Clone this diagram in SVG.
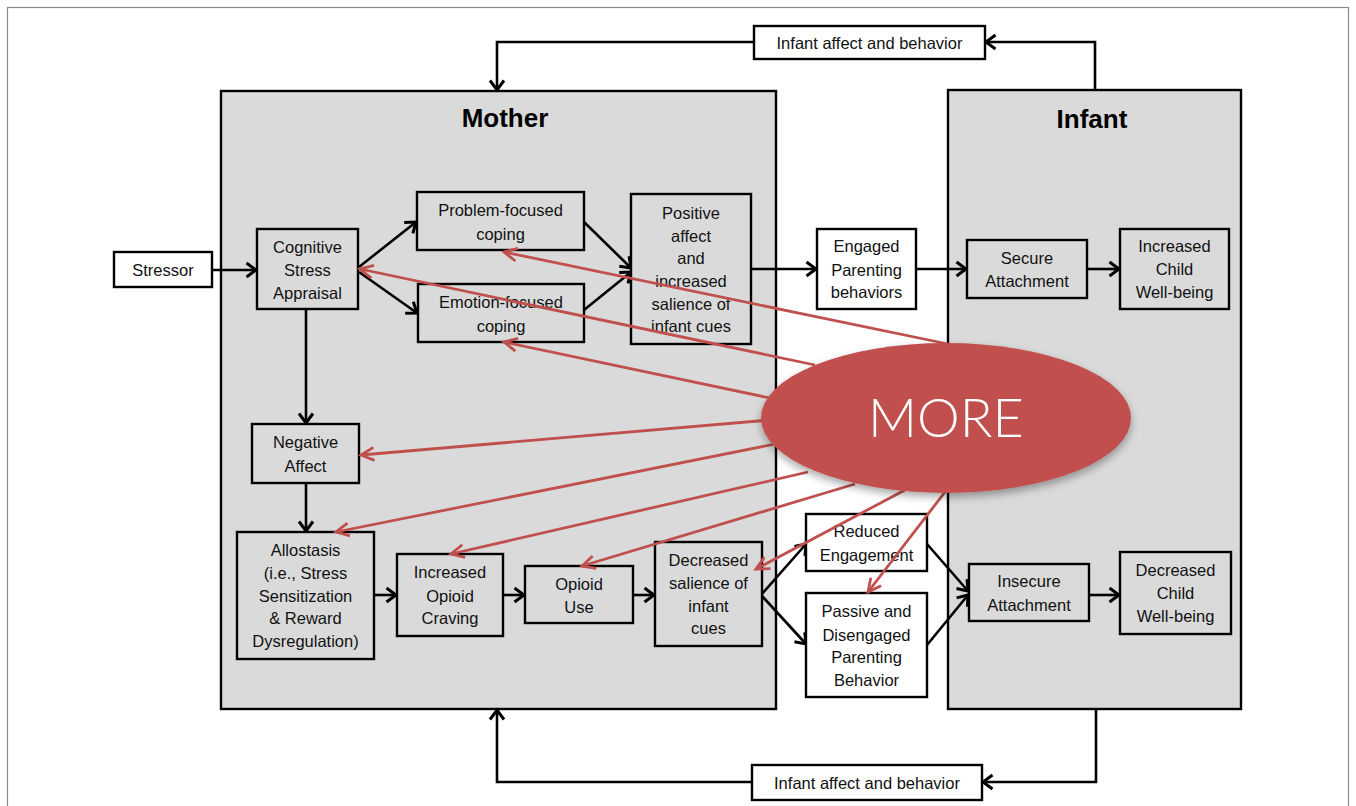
<svg xmlns="http://www.w3.org/2000/svg" width="1356" height="806" viewBox="0 0 1356 806">
<style>
.box{stroke:#000;stroke-width:2.4;fill:#dadada}
.wbox{stroke:#000;stroke-width:2.4;fill:#fff}
.cont{stroke:#000;stroke-width:2.4;fill:#dadada}
.t{font-family:"Liberation Sans",Arial,sans-serif;font-size:16.5px;fill:#111;text-anchor:middle;dominant-baseline:central}
.title{font-family:"Liberation Sans",Arial,sans-serif;font-size:26px;font-weight:bold;fill:#000;text-anchor:middle;dominant-baseline:central}
.blk{stroke:#000;stroke-width:2.6;fill:none;marker-end:url(#ab)}
.red{stroke:#c0504d;stroke-width:2.8;fill:none;marker-end:url(#ar)}
</style>
<defs>
<marker id="ab" markerUnits="userSpaceOnUse" markerWidth="20" markerHeight="20" refX="12" refY="10" orient="auto" overflow="visible">
<path d="M2.5,3 L12,10 L2.5,17" fill="none" stroke="#000" stroke-width="3"/>
</marker>
<marker id="ar" markerUnits="userSpaceOnUse" markerWidth="20" markerHeight="20" refX="12" refY="10" orient="auto" overflow="visible">
<path d="M-1,3.5 L12,10 L-1,16.5" fill="none" stroke="#c0504d" stroke-width="2.8"/>
</marker>
<filter id="sh" x="-20%" y="-20%" width="140%" height="150%">
<feDropShadow dx="0" dy="4" stdDeviation="4" flood-color="#000" flood-opacity="0.35"/>
</filter>
</defs>
<rect x="0" y="0" width="1356" height="806" fill="#fff"/>
<rect x="7.5" y="7.5" width="1341" height="820" fill="none" stroke="#8a8a8a" stroke-width="1.2"/>

<g id="mother"><rect class="cont" x="221" y="91" width="555" height="618"/><text class="title" x="505" y="118">Mother</text></g>
<g id="infant"><rect class="cont" x="948" y="90" width="293" height="619"/><text class="title" x="1092" y="119">Infant</text></g>

<g id="connectors">
<polyline class="blk" points="1095,90 1095,42 986,42"/>
<polyline class="blk" points="754,42 497,42 497,90"/>
<polyline class="blk" points="1096,709 1096,782 983,782"/>
<polyline class="blk" points="752,782 497,782 497,710"/>
<line class="blk" x1="212" y1="270" x2="256" y2="270"/>
<line class="blk" x1="359" y1="267" x2="416" y2="222"/>
<line class="blk" x1="359" y1="272" x2="417" y2="313"/>
<line class="blk" x1="584" y1="222" x2="631" y2="268"/>
<line class="blk" x1="584" y1="310" x2="631" y2="272"/>
<line class="blk" x1="751" y1="269" x2="816" y2="269"/>
<line class="blk" x1="916" y1="269" x2="966" y2="269"/>
<line class="blk" x1="1087" y1="269" x2="1119" y2="269"/>
<line class="blk" x1="306" y1="309" x2="306" y2="423"/>
<line class="blk" x1="306" y1="483" x2="306" y2="531"/>
<line class="blk" x1="374" y1="595" x2="396" y2="595"/>
<line class="blk" x1="503" y1="595" x2="524" y2="595"/>
<line class="blk" x1="633" y1="595" x2="654" y2="595"/>
<line class="blk" x1="762" y1="594" x2="806" y2="544"/>
<line class="blk" x1="762" y1="596" x2="806" y2="644"/>
<line class="blk" x1="927" y1="544" x2="968" y2="591"/>
<line class="blk" x1="927" y1="645" x2="968" y2="595"/>
<line class="blk" x1="1089" y1="595" x2="1119" y2="595"/>
</g>

<g id="n-top-feedback"><rect class="wbox" x="754" y="26" width="231" height="33"/><text class="t" x="869.5" y="42.5">Infant affect and behavior</text></g>
<g id="n-bottom-feedback"><rect class="wbox" x="752" y="765" width="230" height="35"/><text class="t" x="867" y="782.5">Infant affect and behavior</text></g>
<g id="n-stressor"><rect class="wbox" x="114" y="252" width="98" height="35"/><text class="t" x="163" y="270">Stressor</text></g>
<g id="n-cognitive"><rect class="box" x="257" y="229" width="101" height="80"/><text class="t" x="307.5" y="247">Cognitive</text><text class="t" x="307.5" y="270">Stress</text><text class="t" x="307.5" y="293">Appraisal</text></g>
<g id="n-problem"><rect class="box" x="417" y="192" width="167" height="58"/><text class="t" x="500.5" y="210">Problem-focused</text><text class="t" x="500.5" y="234">coping</text></g>
<g id="n-emotion"><rect class="box" x="418" y="284" width="166" height="58"/><text class="t" x="501" y="302">Emotion-focused</text><text class="t" x="501" y="326">coping</text></g>
<g id="n-positive"><rect class="box" x="631" y="194" width="120" height="150"/><text class="t" x="691" y="213">Positive</text><text class="t" x="691" y="236">affect</text><text class="t" x="691" y="258">and</text><text class="t" x="691" y="281">increased</text><text class="t" x="691" y="304">salience of</text><text class="t" x="691" y="326">infant cues</text></g>
<g id="n-engaged"><rect class="wbox" x="817" y="229" width="99" height="80"/><text class="t" x="866.5" y="246">Engaged</text><text class="t" x="866.5" y="270">Parenting</text><text class="t" x="866.5" y="292">behaviors</text></g>
<g id="n-secure"><rect class="box" x="967" y="240" width="120" height="58"/><text class="t" x="1027" y="258">Secure</text><text class="t" x="1027" y="281">Attachment</text></g>
<g id="n-increased-wb"><rect class="box" x="1120" y="229" width="109" height="80"/><text class="t" x="1174.5" y="246">Increased</text><text class="t" x="1174.5" y="269">Child</text><text class="t" x="1174.5" y="292">Well-being</text></g>
<g id="n-negative"><rect class="box" x="252" y="424" width="107" height="59"/><text class="t" x="305.5" y="442">Negative</text><text class="t" x="305.5" y="466">Affect</text></g>
<g id="n-allostasis"><rect class="box" x="237" y="532" width="137" height="127"/><text class="t" x="305.5" y="550">Allostasis</text><text class="t" x="305.5" y="573">(i.e., Stress</text><text class="t" x="305.5" y="596">Sensitization</text><text class="t" x="305.5" y="618">&amp; Reward</text><text class="t" x="305.5" y="641">Dysregulation)</text></g>
<g id="n-craving"><rect class="box" x="397" y="554" width="106" height="82"/><text class="t" x="450" y="572">Increased</text><text class="t" x="450" y="596">Opioid</text><text class="t" x="450" y="618">Craving</text></g>
<g id="n-opioid-use"><rect class="box" x="525" y="566" width="108" height="57"/><text class="t" x="579" y="584">Opioid</text><text class="t" x="579" y="607">Use</text></g>
<g id="n-decreased-salience"><rect class="box" x="655" y="542" width="107" height="104"/><text class="t" x="708.5" y="560">Decreased</text><text class="t" x="708.5" y="583">salience of</text><text class="t" x="708.5" y="606">infant</text><text class="t" x="708.5" y="628">cues</text></g>
<g id="n-reduced"><rect class="wbox" x="806" y="514" width="121" height="57"/><text class="t" x="866.5" y="531">Reduced</text><text class="t" x="866.5" y="555">Engagement</text></g>
<g id="n-passive"><rect class="wbox" x="806" y="593" width="121" height="104"/><text class="t" x="866.5" y="611">Passive and</text><text class="t" x="866.5" y="635">Disengaged</text><text class="t" x="866.5" y="657">Parenting</text><text class="t" x="866.5" y="680">Behavior</text></g>
<g id="n-insecure"><rect class="box" x="969" y="564" width="120" height="57"/><text class="t" x="1029" y="581">Insecure</text><text class="t" x="1029" y="605">Attachment</text></g>
<g id="n-decreased-wb"><rect class="box" x="1120" y="552" width="111" height="82"/><text class="t" x="1175.5" y="570">Decreased</text><text class="t" x="1175.5" y="593">Child</text><text class="t" x="1175.5" y="616">Well-being</text></g>

<g id="more-connectors">
<line class="red" x1="948" y1="344" x2="504" y2="252"/>
<line class="red" x1="815" y1="365" x2="360" y2="269"/>
<line class="red" x1="770" y1="398" x2="504" y2="342"/>
<line class="red" x1="770" y1="420" x2="361" y2="455"/>
<line class="red" x1="775" y1="444" x2="336" y2="532"/>
<line class="red" x1="808" y1="472" x2="451" y2="554"/>
<line class="red" x1="855" y1="484" x2="582" y2="566"/>
<line class="red" x1="905" y1="490" x2="756" y2="569"/>
<line class="red" x1="945" y1="492" x2="868" y2="592"/>
</g>
<g id="n-more">
<ellipse cx="946" cy="418" rx="185" ry="75" fill="#c0504d" filter="url(#sh)"/>
<text x="946" y="416" font-family="Lato,'Open Sans',sans-serif" font-size="54" font-weight="300" fill="#fff" text-anchor="middle" dominant-baseline="central">MORE</text>
</g>
</svg>
